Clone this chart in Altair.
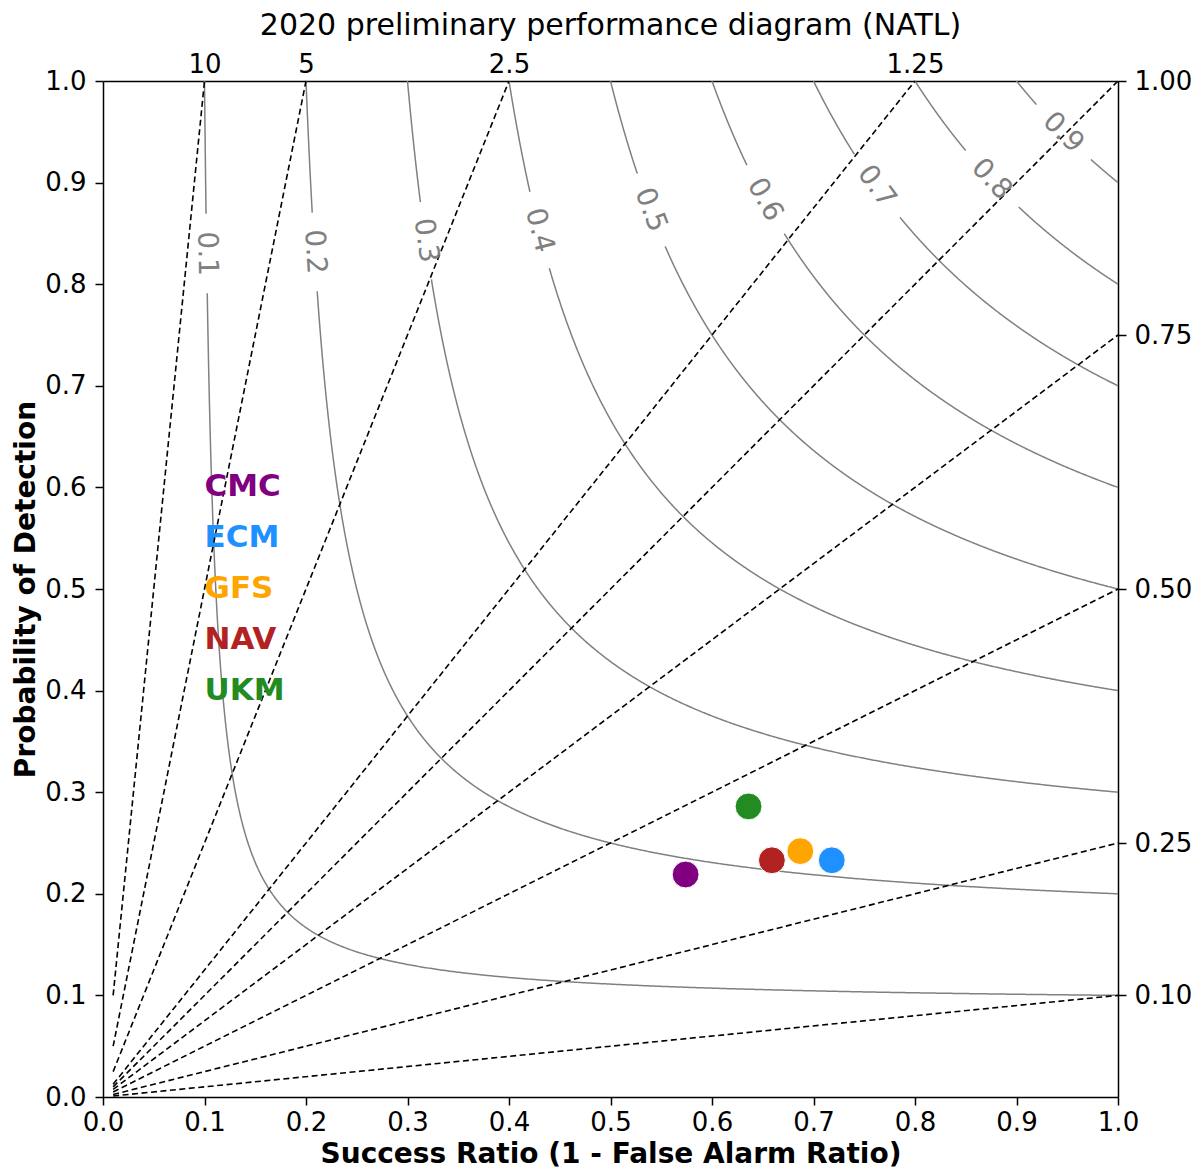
import altair as alt
import numpy as np
import pandas as pd

FONT = "DejaVu Sans"

# ---- data ----
models = ["CMC", "ECM", "GFS", "NAV", "UKM"]
model_colors = ["purple", "dodgerblue", "orange", "firebrick", "forestgreen"]
model_sr = [0.574, 0.718, 0.687, 0.659, 0.636]
model_pod = [0.219, 0.233, 0.242, 0.233, 0.286]
legend_x = [0.10, 0.10, 0.10, 0.10, 0.10]
legend_y = [0.60, 0.55, 0.50, 0.45, 0.40]

csi_levels = [0.1, 0.2, 0.3, 0.4, 0.5, 0.6, 0.7, 0.8, 0.9]
csi_label_pod = [0.830, 0.832, 0.843, 0.853, 0.873, 0.883, 0.896, 0.903, 0.949]

bias_levels = [0.1, 0.25, 0.5, 0.75, 1.0, 1.25, 2.5, 5.0, 10.0]
top_tick_vals = [0.1, 0.2, 0.4, 0.8]
top_tick_labels = ["10", "5", "2.5", "1.25"]
right_tick_vals = [0.1, 0.25, 0.5, 0.75, 1.0]

sr_min = 0.01
gap_r = 0.038

# ---- CSI contour curves (definition of the diagram) ----
rows = []
lab_rows = []
for c, lp in zip(csi_levels, csi_label_pod):
    s1 = np.linspace(c, 1.0, 600)
    p_from_s = 1.0 / (1.0 / c - 1.0 / s1 + 1.0)
    p2 = np.linspace(c, 1.0, 600)
    s_from_p = 1.0 / (1.0 / c - 1.0 / p2 + 1.0)
    S = np.concatenate([s1, s_from_p])
    P = np.concatenate([p_from_s, p2])
    order = np.argsort(S)
    S, P = S[order], P[order]
    ls = 1.0 / (1.0 / c - 1.0 / lp + 1.0)
    ang = np.degrees(np.arctan((lp ** 2) / (ls ** 2)))
    lab_rows.append({"sr": ls, "pod": lp, "txt": f"{c:.1f}", "ang": ang})
    d = np.hypot(S - ls, P - lp)
    keep = d > gap_r
    seg = 0
    prev = True
    for s, p, k in zip(S, P, keep):
        if k:
            if not prev:
                seg += 1
            rows.append({"sr": s, "pod": p, "grp": f"{c}_{seg}"})
        prev = k
csi_df = pd.DataFrame(rows)
lab_df = pd.DataFrame(lab_rows)

# ---- bias lines ----
brows = []
for b in bias_levels:
    s_end = min(1.0, 1.0 / b)
    for s in [sr_min, s_end]:
        brows.append({"sr": s, "pod": b * s, "bias": str(b)})
bias_df = pd.DataFrame(brows)

pts_df = pd.DataFrame({"model": models, "sr": model_sr, "pod": model_pod, "col": model_colors})
leg_df = pd.DataFrame({"model": models, "x": legend_x, "y": legend_y, "col": model_colors})

xs = alt.Scale(domain=[0, 1], nice=False)
ys = alt.Scale(domain=[0, 1], nice=False)

axis_common = dict(
    labelFont=FONT, labelFontSize=26, labelColor="black",
    titleFont=FONT, titleFontSize=28, titleFontWeight="bold", titleColor="black",
    domainColor="black", domainWidth=1.5, tickColor="black", tickWidth=1.5,
    grid=False, labelFlush=False, labelOverlap=False,
)

x_bottom = alt.X("sr:Q", scale=xs, axis=alt.Axis(
    orient="bottom", values=[round(0.1 * i, 1) for i in range(11)], format=".1f",
    title="Success Ratio (1 - False Alarm Ratio)", titleBaseline="alphabetic",
    titleY=65, titleX=507.5,
    tickSize=8, labelPadding=4, **axis_common))
y_left = alt.Y("pod:Q", scale=ys, axis=alt.Axis(
    orient="left", values=[round(0.1 * i, 1) for i in range(11)], format=".1f",
    title="Probability of Detection", titlePadding=4,
    tickSize=8, labelPadding=9, **axis_common))

top_expr = " : ".join(
    f"abs(datum.value - {v}) < 1e-6 ? '{l}'" for v, l in zip(top_tick_vals, top_tick_labels)
) + " : ''"

x_top = alt.X("sr:Q", scale=xs, axis=alt.Axis(
    orient="top", values=top_tick_vals, labelExpr=top_expr, title=None,
    ticks=False, labelPadding=4, **axis_common))
y_right = alt.Y("pod:Q", scale=ys, axis=alt.Axis(
    orient="right", values=right_tick_vals, format=".2f", title=None,
    tickSize=8, labelPadding=8, **axis_common))

contours = alt.Chart(csi_df).mark_line(color="#808080", strokeWidth=1.5).encode(
    x=x_bottom, y=y_left, detail="grp:N", order="sr:Q")

contour_labels = alt.Chart(lab_df).mark_text(
    color="#808080", font=FONT, fontSize=28, align="center", baseline="middle").encode(
    x=alt.X("sr:Q", scale=xs, axis=None), y=alt.Y("pod:Q", scale=ys, axis=None),
    text="txt:N", angle=alt.Angle("ang:Q", scale=None))

bias = alt.Chart(bias_df).mark_line(color="black", strokeWidth=1.6, strokeDash=[6, 3.5]).encode(
    x=x_top, y=y_right, detail="bias:N")

points = alt.Chart(pts_df).mark_point(filled=True, opacity=1, size=720, shape="circle",
                                     stroke="white", strokeWidth=1).encode(
    x=alt.X("sr:Q", scale=xs, axis=None), y=alt.Y("pod:Q", scale=ys, axis=None),
    color=alt.Color("col:N", scale=None))

legend_txt = alt.Chart(leg_df).mark_text(
    font=FONT, fontSize=31, fontWeight="bold", align="left", baseline="middle").encode(
    x=alt.X("x:Q", scale=xs, axis=None), y=alt.Y("y:Q", scale=ys, axis=None),
    text="model:N", color=alt.Color("col:N", scale=None))

chart = alt.layer(contours, bias, contour_labels, points, legend_txt).resolve_axis(
    x="independent", y="independent"
).properties(
    width=1015, height=1016,
    title=alt.TitleParams("2020 preliminary performance diagram (NATL)", font=FONT,
                          fontSize=30, fontWeight="normal", color="black", offset=10),
    autosize=alt.AutoSizeParams(type="none"),
    padding={"left": 95, "top": 73, "right": 73, "bottom": 71},
).configure_view(stroke=None)

chart.save("out.html", embed_options={"renderer": "svg", "actions": False})
